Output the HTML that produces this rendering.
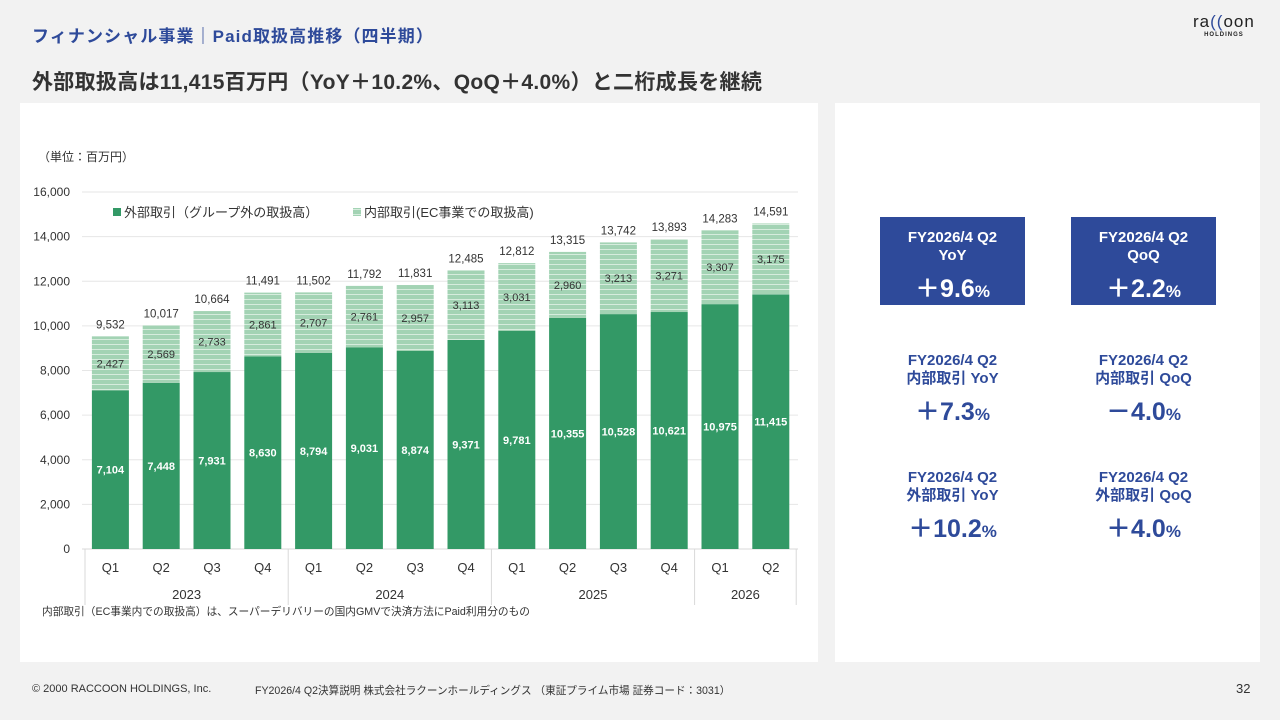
<!DOCTYPE html>
<html><head><meta charset="utf-8"><style>
body{margin:0;width:1280px;height:720px;background:#f2f2f2;font-family:"Liberation Sans","Noto Sans CJK JP",sans-serif;position:relative;overflow:hidden}
.abs{position:absolute}
.t1{left:32px;top:22px;font-size:17px;font-weight:bold;color:#2e4a9a;letter-spacing:1.1px}
.t2{left:32px;top:66px;font-size:21px;font-weight:bold;color:#333;letter-spacing:0.3px}
.panel{background:#fff}
.box{position:absolute;width:145px;height:88px;background:#2e4a9a;color:#fff;text-align:center;font-weight:bold}
.kp{position:absolute;width:145px;text-align:center;color:#2e4a9a;font-weight:bold}
.hd{font-size:15px;line-height:18px}
.big{font-size:25px;margin-top:4px}
.big small{font-size:17px}
.foot{font-size:11px;color:#333;top:683px}
</style></head><body>
<div class="abs t1">フィナンシャル事業｜Paid取扱高推移（四半期）</div>
<div class="abs t2">外部取扱高は11,415百万円（YoY＋10.2%、QoQ＋4.0%）と二桁成長を継続</div>
<div class="abs" style="left:1193px;top:12px;text-align:center;color:#222">
<div style="font-size:17px;letter-spacing:1px">ra<span style="color:#2e4a9a">((</span>oon</div>
<div style="font-size:6px;font-weight:bold;letter-spacing:1px">HOLDINGS</div></div>
<div class="abs panel" style="left:20px;top:103px;width:798px;height:559px"></div>
<div class="abs panel" style="left:835px;top:103px;width:425px;height:559px"></div>
<svg class="abs" style="left:0;top:0" width="820" height="640" id="chart">
<defs><pattern id="stripe" width="6" height="5" patternUnits="userSpaceOnUse"><rect width="6" height="5" fill="#a3d3b4"/><rect y="4" width="6" height="1" fill="#d6ecdd"/></pattern></defs>
</svg>
<div class="abs" style="left:38px;top:148px;font-size:12px;color:#333">（単位：百万円）</div>
<div class="abs" style="left:42px;top:604px;font-size:10.7px;color:#333">内部取引（EC事業内での取扱高）は、スーパーデリバリーの国内GMVで決済方法にPaid利用分のもの</div>

<div class="box" style="left:880px;top:217px"><div class="hd" style="margin-top:12px">FY2026/4 Q2<br>YoY</div><div class="big">＋9.6<small>%</small></div></div>
<div class="box" style="left:1071px;top:217px"><div class="hd" style="margin-top:12px">FY2026/4 Q2<br>QoQ</div><div class="big">＋2.2<small>%</small></div></div>
<div class="kp" style="left:880px;top:352px"><div class="hd">FY2026/4 Q2<br>内部取引 YoY</div><div class="big">＋7.3<small>%</small></div></div>
<div class="kp" style="left:1071px;top:352px"><div class="hd">FY2026/4 Q2<br>内部取引 QoQ</div><div class="big">－4.0<small>%</small></div></div>
<div class="kp" style="left:880px;top:469px"><div class="hd">FY2026/4 Q2<br>外部取引 YoY</div><div class="big">＋10.2<small>%</small></div></div>
<div class="kp" style="left:1071px;top:469px"><div class="hd">FY2026/4 Q2<br>外部取引 QoQ</div><div class="big">＋4.0<small>%</small></div></div>

<div class="abs foot" style="left:32px">© 2000 RACCOON HOLDINGS, Inc.</div>
<div class="abs foot" style="left:255px;font-size:10.6px">FY2026/4 Q2決算説明 株式会社ラクーンホールディングス （東証プライム市場 証券コード：3031）</div>
<div class="abs foot" style="left:1236px;font-size:13px;top:681px">32</div>
<script>
const quarters=["Q1","Q2","Q3","Q4","Q1","Q2","Q3","Q4","Q1","Q2","Q3","Q4","Q1","Q2"];
const years=["2023","2024","2025","2026"];
const yearSpans=[4,4,4,2];
const external=[7104,7448,7931,8630,8794,9031,8874,9371,9781,10355,10528,10621,10975,11415];
const internal=[2427,2569,2733,2861,2707,2761,2957,3113,3031,2960,3213,3271,3307,3175];
const totals=[9532,10017,10664,11491,11502,11792,11831,12485,12812,13315,13742,13893,14283,14591];
const yTicks=[0,2000,4000,6000,8000,10000,12000,14000,16000];
const svg=document.getElementById('chart');const NS="http://www.w3.org/2000/svg";
const x0=85,step=50.8,bw=37,yMax=16000,yb=549,yt=192;
const y=v=>yb-(v/yMax)*(yb-yt);
const xc=i=>x0+step*(i+0.5);
function mk(tag,attrs,txt){const e=document.createElementNS(NS,tag);for(const k in attrs)e.setAttribute(k,attrs[k]);if(txt!==undefined)e.textContent=txt;svg.appendChild(e);return e;}
const fmt=v=>v.toLocaleString('en-US');
yTicks.forEach(t=>{
 const g=mk('line',{x1:82,x2:798,y1:y(t),y2:y(t),stroke:t?'#e6e6e6':'#d9d9d9'});
 
 
 const l=mk('text',{x:70,y:y(t)+4,'text-anchor':'end','font-size':12,fill:'#333'},fmt(t));
 
 
});
external.forEach((v,i)=>{
 const cx=xc(i);
 const b=mk('rect',{x:cx-bw/2,y:y(v),width:bw,height:yb-y(v),fill:'#339966'});
 
 
 const top=v+internal[i];
 const b2=mk('rect',{x:cx-bw/2,y:y(top),width:bw,height:y(v)-y(top),fill:'url(#stripe)'});
 
 
 const l1=mk('text',{x:cx,y:(y(v)+yb)/2+4,'text-anchor':'middle','font-size':11,'font-weight':'bold',fill:'#fff'},fmt(v));
 
 
 const l2=mk('text',{x:cx,y:(y(v)+y(top))/2+4,'text-anchor':'middle','font-size':11,fill:'#333'},fmt(internal[i]));
 
 
 const l3=mk('text',{x:cx,y:y(totals[i])-8,'text-anchor':'middle','font-size':11.5,fill:'#333'},fmt(totals[i]));
 
 
 const q=mk('text',{x:cx,y:572,'text-anchor':'middle','font-size':13,fill:'#333'},quarters[i]);
 
 
});
let idx=0;
mk('line',{x1:x0,x2:x0,y1:yb,y2:605,stroke:'#d9d9d9'});
years.forEach((yr,k)=>{
 const s=idx,e=idx+yearSpans[k];
 const yl=mk('text',{x:(x0+step*s+x0+step*e)/2,y:599,'text-anchor':'middle','font-size':13,fill:'#333'},yr);
 
 
 mk('line',{x1:x0+step*e,x2:x0+step*e,y1:yb,y2:605,stroke:'#d9d9d9'});
 idx=e;
});
const lg1=mk('rect',{x:113,y:208,width:8,height:8,fill:'#339966'});


const lt1=mk('text',{x:124,y:217,'font-size':13,fill:'#333'},'外部取引（グループ外の取扱高）');


const lg2=mk('rect',{x:353,y:208,width:8,height:8,fill:'url(#stripe)'});


const lt2=mk('text',{x:364,y:217,'font-size':13,fill:'#333'},'内部取引(EC事業での取扱高)');


</script>
</body></html>
